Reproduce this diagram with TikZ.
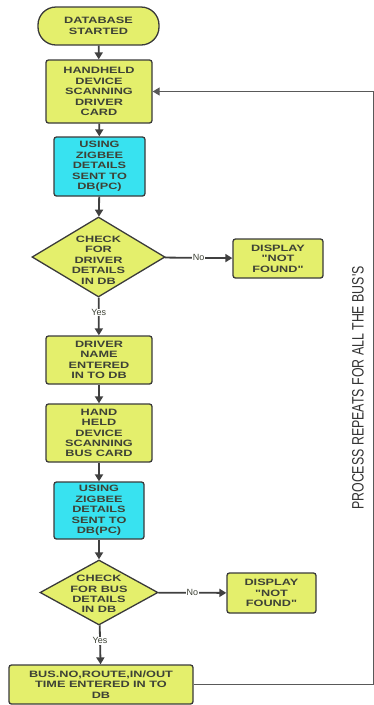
\documentclass[tikz,border=0pt]{standalone}
\usepackage{fontspec}
\setmainfont{Liberation Sans}
\newfontfamily\boxfont[FakeStretch=1.38]{Liberation Sans Bold}
\newfontfamily\sidefont[FakeStretch=0.75]{Liberation Sans}
\usetikzlibrary{shapes.geometric,arrows.meta}
\definecolor{ylw}{HTML}{E4EF6C}
\definecolor{cyn}{HTML}{38E2F0}
\definecolor{edge}{HTML}{3A3A3A}
\definecolor{txt}{HTML}{3E4236}
\tikzset{
  base/.style={draw=edge, line width=1.3pt, text=txt, align=center, inner sep=0pt,
    font=\boxfont\fontsize{9.2}{10.4}\selectfont},
  yproc/.style={base, fill=ylw, rounded corners=2.5pt},
  cproc/.style={base, fill=cyn, rounded corners=2.5pt},
  term/.style={base, fill=ylw, rounded corners=18pt},
  dec/.style={base, fill=ylw, diamond},
  conn/.style={draw=black!75, line width=1.8pt, -{Triangle[width=8pt,length=7pt]}},
  lbl/.style={fill=white, inner sep=0.5pt, text=txt, font=\fontsize{9}{10}\selectfont},
}
\begin{document}
\begin{tikzpicture}[x=1pt,y=-1pt]
\useasboundingbox (0,0) rectangle (374,705);
\node[term, minimum width=121pt, minimum height=38pt] (start) at (98.5,26) {DATABASE\\STARTED};
\node[yproc, minimum width=106pt, minimum height=63pt] (hand1) at (99,91.5) {HANDHELD\\DEVICE\\SCANNING\\DRIVER\\CARD};
\node[cproc, minimum width=91pt, minimum height=59pt] (zig1) at (99.5,166.5) {USING\\ZIGBEE\\DETAILS\\SENT TO\\DB(PC)};
\node[dec, minimum width=133pt, minimum height=80pt] (dia1) at (98.5,257) {};
\node[base, draw=none] (dia1t) at (98.5,260) {CHECK\\FOR\\DRIVER\\DETAILS\\IN DB};
\node[yproc, minimum width=90pt, minimum height=39pt] (disp1) at (278,258.5) {DISPLAY\\"NOT\\FOUND"};
\node[yproc, minimum width=106pt, minimum height=48pt] (drv) at (99,360) {DRIVER\\NAME\\ENTERED\\IN TO DB};
\node[yproc, minimum width=106pt, minimum height=58pt] (hand2) at (99,433) {HAND\\HELD\\DEVICE\\SCANNING\\BUS CARD};
\node[cproc, minimum width=90pt, minimum height=57pt] (zig2) at (99,510.5) {USING\\ZIGBEE\\DETAILS\\SENT TO\\DB(PC)};
\node[dec, minimum width=118pt, minimum height=65pt] (dia2) at (99,592.5) {};
\node[base, draw=none] (dia2t) at (99,594) {CHECK\\FOR BUS\\DETAILS\\IN DB};
\node[yproc, minimum width=89pt, minimum height=40pt] (disp2) at (271.5,593) {DISPLAY\\"NOT\\FOUND"};
\node[yproc, minimum width=184pt, minimum height=39pt] (bot) at (101,684.5) {BUS.NO,ROUTE,IN/OUT\\TIME ENTERED IN TO\\DB};
\node[rotate=90, font=\sidefont\fontsize{16.5}{18}\selectfont, text=black!80, inner sep=0pt] (side) at (358,388) {PROCESS REPEATS FOR ALL THE BUS'S};
\coordinate (cbr) at (373.5,684.5);
\coordinate (ctr) at (373.5,91.5);
\draw[conn] (start) -- (hand1);
\draw[conn] (hand1) -- (zig1);
\draw[conn] (zig1) -- (dia1);
\draw[conn] (dia1) -- node[lbl] (no1) {No} (disp1);
\draw[conn] (dia1) -- node[lbl, pos=0.4] (yes1) {Yes} (drv);
\draw[conn] (drv) -- (hand2);
\draw[conn] (hand2) -- (zig2);
\draw[conn] (zig2) -- (dia2);
\draw[conn] (dia2) -- node[lbl] (no2) {No} (disp2);
\draw[conn] (dia2) -- node[lbl, pos=0.4] (yes2) {Yes} (bot);
\draw[conn, line width=1.3pt, draw=black!65] (bot.east |- cbr) -- (cbr) -- (ctr) -- (hand1.east);
\end{tikzpicture}
\end{document}
